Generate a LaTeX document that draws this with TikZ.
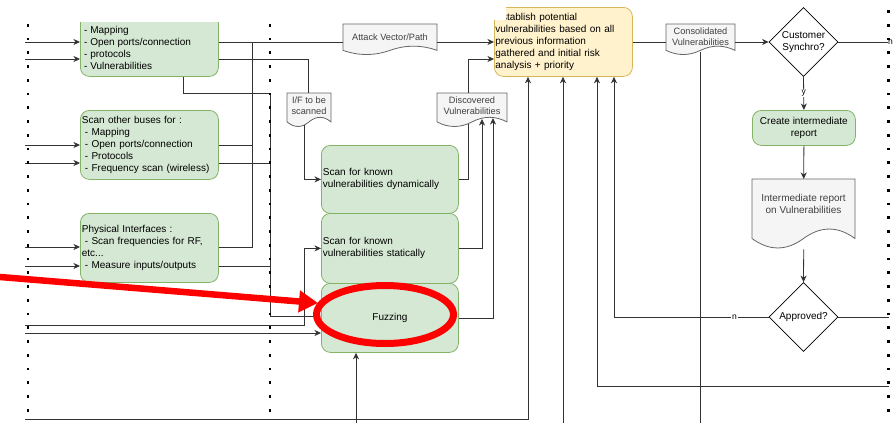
\documentclass[tikz,border=0pt]{standalone}
\usepackage{fontspec}
\setmainfont{Liberation Sans}
\usetikzlibrary{arrows.meta,shapes.geometric}
\definecolor{gfill}{HTML}{D5E8D4}
\definecolor{gline}{HTML}{82B366}
\definecolor{yfill}{HTML}{FFF2CC}
\definecolor{yline}{HTML}{D6B656}
\definecolor{dfill}{HTML}{F5F5F5}
\definecolor{dline}{HTML}{666666}
\definecolor{dtext}{HTML}{404040}
\definecolor{wire}{HTML}{333333}
\newcommand{\fsz}[2]{\fontsize{#1}{#2}\selectfont}
% document shape with a wavy lower edge: name, x1, y1, x2, y2
\newcommand{\docshape}[5]{%
  \pgfmathsetmacro{\dw}{#4-#2}%
  \pgfmathsetmacro{\dh}{#5-#3}%
  \pgfmathsetmacro{\yb}{#5-0.15*\dh}%
  \pgfmathsetmacro{\yc}{\yb-0.18*\dh}%
  \pgfmathsetmacro{\yd}{\yb+0.18*\dh}%
  \path[docfill] (#2,#3) -- (#4,#3) -- (#4,\yb)
     .. controls ({#4-\dw/6},\yc) and ({#2+2*\dw/3},\yc) .. ({#2+\dw/2},\yb)
     .. controls ({#2+\dw/3},\yd) and ({#2+\dw/6},\yd) .. (#2,\yb) -- cycle;
  \node[inner sep=0pt, minimum width=\dw pt, minimum height=\dh pt, anchor=north west] (#1) at (#2,#3) {};
}
\begin{document}
\begin{tikzpicture}[x=1pt,y=-1pt,
  gbox/.style={draw=gline, fill=gfill, rounded corners=9pt, line width=0.8pt,
    inner xsep=1.5pt, inner ysep=0pt, align=left, font=\fsz{10}{12}, text=black},
  ybox/.style={draw=yline, fill=yfill, rounded corners=9pt, line width=0.8pt,
    inner xsep=1pt, inner ysep=0pt, align=left, font=\fsz{10}{12}, text=black},
  docfill/.style={draw=dline, fill=dfill, line width=0.8pt},
  doctext/.style={align=center, font=\fsz{9.2}{11.2}, text=dtext, inner sep=0pt},
  dia/.style={diamond, draw=black, fill=white, line width=0.8pt, inner sep=0pt,
    minimum width=69pt, minimum height=69pt},
  wire/.style={draw=wire, line width=0.8pt},
  arr/.style={-{Stealth[length=6.5pt,width=6pt,inset=2pt]}},
  lbl/.style={fill=white, inner sep=0.8pt, font=\fsz{8.5}{9}, text=black},
  dotmark/.style={fill=black},
  marker/.style={draw=red, line width=6.5pt}
]
\useasboundingbox (0,0) rectangle (894,423);
\fill[white] (0,0) rectangle (894,423);

% ---------- left column ----------
\begin{scope}
  \clip (0,22) rectangle (894,423);
  \node[gbox, anchor=north west, minimum width=138pt, minimum height=80pt] (mapbox) at (80,-4) {};
\end{scope}
\node[anchor=west, align=left, font=\fsz{10}{12}, inner sep=0pt] (maptext) at (81,48)
  {\hspace*{3pt}- Mapping\\\hspace*{3pt}- Open ports/connection\\\hspace*{3pt}- protocols\\\hspace*{3pt}- Vulnerabilities};

\node[gbox, anchor=north west, minimum width=138pt, minimum height=69pt, text width=135pt] (scan2) at (80,110)
  {Scan other buses for :\\\hspace*{3pt}- Mapping\\\hspace*{3pt}- Open ports/connection\\\hspace*{3pt}- Protocols\\\hspace*{3pt}- Frequency scan (wireless)};

\node[gbox, anchor=north west, minimum width=138pt, minimum height=69pt, text width=135pt] (phys) at (80,213)
  {Physical Interfaces :\\\hspace*{3pt}- Scan frequencies for RF,\\etc...\\\hspace*{3pt}- Measure inputs/outputs};

% ---------- middle column ----------
\node[gbox, anchor=north west, minimum width=137pt, minimum height=68pt, text width=134pt] (dyn) at (321,145)
  {Scan for known\\vulnerabilities dynamically};
\node[gbox, anchor=north west, minimum width=137pt, minimum height=70pt, text width=134pt] (stat) at (321,213)
  {Scan for known\\vulnerabilities statically};
\node[gbox, anchor=north west, minimum width=137pt, minimum height=69pt, text width=134pt, align=center] (fuzz) at (321,283)
  {Fuzzing};

\docshape{attack}{343}{24}{437}{55}
\node[doctext] (attacktext) at (390,37) {Attack Vector/Path};
\docshape{ifdoc}{287}{93}{331}{127}
\node[doctext] (iftext) at (309,106) {I/F to be\\scanned};
\docshape{disc}{437}{93}{507}{127}
\node[doctext] (disctext) at (472,106) {Discovered\\Vulnerabilities};

% ---------- right part ----------
\node[ybox, anchor=north west, minimum width=138pt, minimum height=69pt, text width=136pt] (estab) at (494,7)
  {Establish potential\\vulnerabilities based on all\\previous information\\gathered and initial risk\\analysis + priority};
\fill[white] (492.5,4) rectangle (506.2,20);

\docshape{consol}{666}{24}{735}{55}
\node[doctext] (consoltext) at (700.5,37) {Consolidated\\Vulnerabilities};

\node[dia] (cust) at (803.5,42) {};
\node[align=center, font=\fsz{10}{12}, inner sep=0pt] (custtext) at (cust) {Customer\\Synchro?};

\node[gbox, align=center, anchor=north west, minimum width=103pt, minimum height=35pt, inner xsep=0pt] (create) at (752,110)
  {Create intermediate\\report};

\docshape{interdoc}{752}{179}{855}{249}
\node[doctext, font=\fsz{10}{12}] (intertext) at (803.5,203.5) {Intermediate report\\on Vulnerabilities};

\node[dia] (appr) at (803.5,317) {};
\node[font=\fsz{10}{12}, inner sep=0pt] (apprtext) at (appr) {Approved?};

% ---------- free ends of connectors ----------
\coordinate (i1) at (25,42);
\coordinate (i2) at (25,59);
\coordinate (i3) at (25,145);
\coordinate (i4) at (25,163);
\coordinate (i5) at (25,247);
\coordinate (i6) at (25,266);
\coordinate (i7) at (25,325);
\coordinate (i8) at (25,333);
\coordinate (i9) at (25,419);
\coordinate (b1) at (356,423);
\coordinate (b2) at (563,423);
\coordinate (b3) at (700,423);
\coordinate (r1) at (889,42);
\coordinate (r2) at (889,317);
\coordinate (r3) at (889,386);
\coordinate (ifin) at (308,93);
\coordinate (ifout) at (304,125);
\coordinate (discin) at (468,124);
\coordinate (discout) at (468,93);
\coordinate (discb1) at (482,119);
\coordinate (discb2) at (493,118);
\coordinate (consout) at (700,52);

% ---------- connectors ----------
\draw[wire,arr] (i1) -- (i1 -| mapbox.west);
\draw[wire,arr] (i2) -- (i2 -| mapbox.west);
\draw[wire,arr] (i3) -- (i3 -| scan2.west);
\draw[wire,arr] (i4) -- (i4 -| scan2.west);
\draw[wire,arr] (i5) -- (i5 -| phys.west);
\draw[wire,arr] (i6) -- (i6 -| phys.west);

\draw[wire] (i1 -| mapbox.east) -- (i1 -| attack.west);
\draw[wire,arr] (i1 -| attack.east) -- (i1 -| estab.west);
\draw[wire] (i2 -| mapbox.east) -| (ifin);
\draw[wire,arr] (ifout) |- (dyn.west);
\draw[wire,arr] (mapbox.south -| 183,0) |- (270,93) |- (fuzz.west |- 0,316);

\draw[wire] (i3 -| scan2.east) -- (252,145);
\draw[wire] (i5 -| phys.east) -| (252,42);
\draw[wire] (i4 -| scan2.east) -- (270,163);
\draw[wire] (i6 -| phys.east) -- (270,266);

\draw[wire,arr] (i7) -- (304,325) |- (stat.west);
\draw[wire,arr] (i8) -- (i8 -| fuzz.west);
\draw[wire,arr] (i9) -| (estab.south -| 528,0);
\draw[wire,arr] (b1) -- (b1 |- fuzz.south);

\draw[wire] (dyn.east) -| (discin);
\draw[wire,arr] (discout) |- (estab.west |- 0,59);
\draw[wire,arr] (stat.east) -| (discb1);
\draw[wire,arr] (fuzz.east) -| (discb2);

\draw[wire] (estab.east |- i1) -- (i1 -| consol.west);
\draw[wire,arr] (i1 -| consol.east) -- (cust.west);
\draw[wire] (cust.east) -- (r1);
\draw[wire,arr] (cust.south) -- node[lbl]{y} (create.north);
\draw[wire,arr] (create.south) -- (interdoc.north);
\draw[wire,arr] (interdoc.south) -- (appr.north);
\draw[wire,arr] (appr.west) -| node[lbl, pos=0.11]{n} (estab.south -| 614,0);
\draw[wire] (appr.east) -- (r2);
\draw[wire,arr] (r3) -| (estab.south -| 597,0);
\draw[wire,arr] (b2) -- (b2 |- estab.south);
\draw[wire] (consout) -- (b3);
\node[lbl, inner sep=0.5pt] (nright) at (890.5,42) {n};

% ---------- dotted lane separators ----------
\foreach \k in {1,...,29} {
  \fill[dotmark] (26.7,{11.5+13.75*\k-1.3}) rectangle +(2.6,2.6);
  \fill[dotmark] (268.7,{11.5+13.75*\k-1.3}) rectangle +(2.6,2.6);
}
\foreach \k in {-1,...,29} {
  \fill[dotmark] (887.2,{11.5+13.75*\k-1.3}) rectangle +(2.6,2.6);
}

% ---------- red highlight ----------
\draw[marker, -{Triangle[length=19pt,width=21pt]}] (0,277) -- (318,303);
\draw[draw=red, line width=7pt] (385,314.5) ellipse [x radius=68.5pt, y radius=29pt];
\end{tikzpicture}
\end{document}
